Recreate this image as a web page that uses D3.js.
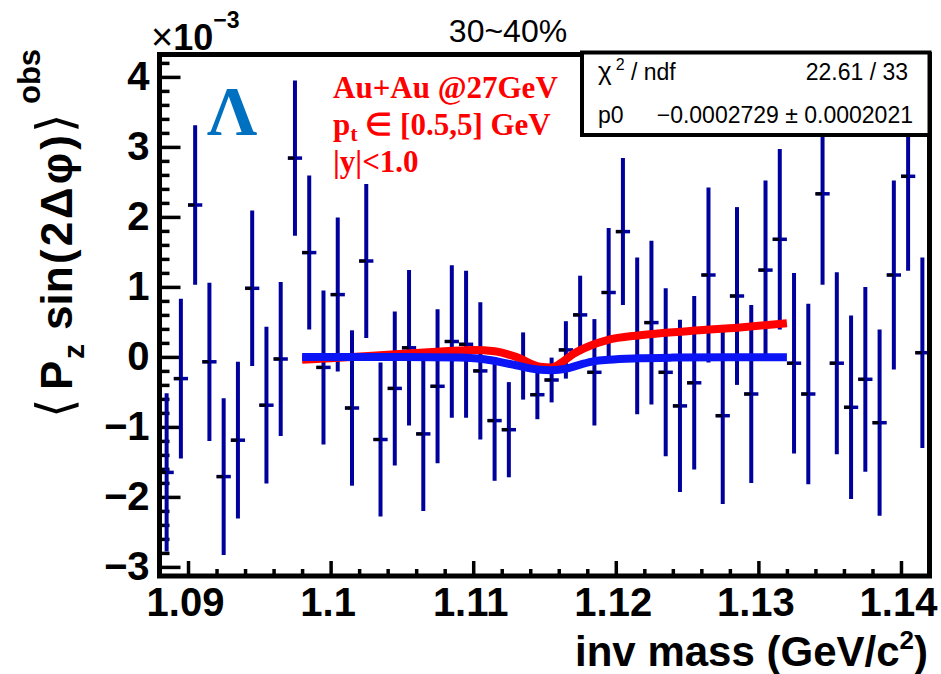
<!DOCTYPE html>
<html><head><meta charset="utf-8">
<script src="https://cdn.jsdelivr.net/npm/d3@7"></script>
<style>body{margin:0;background:#fff}</style>
</head><body>
<svg id="c" width="941" height="674"></svg>
<script>
// ---------- data (values in units of 1e-3) ----------
const xCenters = [1.0885,1.0895,1.0905,1.0915,1.0925,1.0935,1.0945,1.0955,1.0965,1.0975,
  1.0985,1.0995,1.1005,1.1015,1.1025,1.1035,1.1045,1.1055,1.1065,1.1075,
  1.1085,1.1095,1.1105,1.1115,1.1125,1.1135,1.1145,1.1155,1.1165,1.1175,
  1.1185,1.1195,1.1205,1.1215,1.1225,1.1235,1.1245,1.1255,1.1265,1.1275,
  1.1285,1.1295,1.1305,1.1315,1.1325,1.1335,1.1345,1.1355,1.1365,1.1375,
  1.1385,1.1395,1.1405,1.1415];
const yValues = [-1.65,-0.31,2.17,-0.07,-1.71,-1.19,0.98,-0.69,-0.03,2.84,
  1.49,-0.15,0.89,-0.73,1.37,-1.18,-0.45,0.13,-1.10,-0.42,
  0.22,0.18,-0.20,-0.91,-1.04,-0.13,-0.54,-0.33,0.10,0.60,
  -0.22,0.92,1.79,0.30,0.49,-0.22,-0.70,-0.37,1.17,-0.84,
  0.87,-0.53,1.24,1.68,-0.09,-0.53,2.33,-0.09,-0.72,-0.32,
  -0.94,1.17,2.58,0.06];
const yErrors = [1.13,1.14,1.14,1.13,1.12,1.12,1.11,1.12,1.10,1.11,
  1.10,1.10,1.10,1.11,1.10,1.10,1.10,1.11,1.10,1.10,
  1.09,1.05,0.98,0.86,0.68,0.48,0.35,0.32,0.41,0.56,
  0.76,0.92,1.05,1.12,1.17,1.20,1.23,1.24,1.25,1.26,
  1.27,1.27,1.28,1.29,1.29,1.29,1.30,1.30,1.31,1.32,
  1.33,1.35,1.35,1.36];
const blueX = [1.098,1.105,1.109,1.111,1.113,1.1145,1.1155,1.1165,1.1175,1.1185,1.1195,1.1215,1.124,1.128,1.132];
const blueY = [0.0,0.0,-0.01,-0.04,-0.12,-0.18,-0.19,-0.17,-0.11,-0.06,-0.04,-0.02,-0.01,-0.005,-0.005];
const redX = [1.098,1.100,1.104,1.108,1.110,1.1115,1.113,1.1147,1.1155,1.1162,1.117,1.1182,1.1194,1.1217,1.1252,1.1287,1.132];
const redY = [-0.04,-0.02,0.03,0.08,0.10,0.08,0.0,-0.14,-0.15,-0.08,0.04,0.16,0.24,0.31,0.37,0.42,0.48];
const xMajorTicks = [1.09,1.10,1.11,1.12,1.13,1.14];
const xTickLabels = ["1.09","1.1","1.11","1.12","1.13","1.14"];
const yMajorTicks = [-3,-2,-1,0,1,2,3,4];
const yTickLabels = ["\u22123","\u22122","\u22121","0","1","2","3","4"];
const titleText = "30~40%";
const statLabels = ["\u03c7", " / ndf", "p0"];
const statValues = ["22.61 / 33", "\u22120.0002729 \u00b1 0.0002021"];

// ---------- layout ----------
const svg = d3.select("#c");
const L = 159.5, R = 929.5, T = 54.5, B = 576;
const x = d3.scaleLinear().domain([1.088, 1.142]).range([L, R]);
const y = d3.scaleLinear().domain([-3.13, 4.32]).range([B, T]);
const FONT = "'Liberation Sans', Arial, Helvetica, sans-serif";
const SERIF = "'Liberation Serif', 'Times New Roman', serif";

// minor ticks
const xMinor = d3.range(1.088, 1.1421, 0.002).filter(v => !xMajorTicks.some(m => Math.abs(m - v) < 1e-6));
const yMinor = d3.range(-3.0, 4.21, 0.2).filter(v => !yMajorTicks.some(m => Math.abs(m - v) < 1e-6));

const gxMinor = svg.append("g").attr("transform", `translate(0,${B})`)
  .call(d3.axisBottom(x).tickValues(xMinor).tickSize(-7).tickFormat(""));
const gx = svg.append("g").attr("transform", `translate(0,${B})`)
  .call(d3.axisBottom(x).tickValues(xMajorTicks).tickSize(-15).tickPadding(12)
    .tickFormat((d, i) => xTickLabels[i]));
const gyMinor = svg.append("g").attr("transform", `translate(${L},0)`)
  .call(d3.axisLeft(y).tickValues(yMinor).tickSize(-10).tickFormat(""));
const gy = svg.append("g").attr("transform", `translate(${L},0)`)
  .call(d3.axisLeft(y).tickValues(yMajorTicks).tickSize(-21).tickPadding(10)
    .tickFormat((d, i) => yTickLabels[i]));
[gxMinor, gx, gyMinor, gy].forEach(g => {
  g.select(".domain").remove();
  g.selectAll("line").attr("stroke", "#000").attr("stroke-width", 3.5);
  g.selectAll("text").attr("font-family", FONT).attr("font-weight", "bold")
    .attr("font-size", 40).attr("fill", "#000");
});
gx.selectAll("text").attr("dx", -3);

// ---------- error bars ----------
const pts = xCenters.map((c, i) => ({c, v: yValues[i], e: yErrors[i]}));
const gp = svg.append("g");
gp.selectAll("line.v").data(pts).join("line").attr("class", "v")
  .attr("x1", d => x(d.c)).attr("x2", d => x(d.c))
  .attr("y1", d => y(d.v - d.e)).attr("y2", d => y(d.v + d.e))
  .attr("stroke", "#00009c").attr("stroke-width", 4);
gp.selectAll("line.h").data(pts).join("line").attr("class", "h")
  .attr("x1", d => x(d.c - 0.0005)).attr("x2", d => x(d.c + 0.0005))
  .attr("y1", d => y(d.v)).attr("y2", d => y(d.v))
  .attr("stroke", "#00009c").attr("stroke-width", 3.5);
gp.selectAll("rect.m").data(pts).join("rect").attr("class", "m")
  .attr("x", d => x(d.c) - 7).attr("width", 6.5)
  .attr("y", d => y(d.v) - 1.5).attr("height", 3).attr("fill", "#000");

// ---------- curves ----------
const line = d3.line().x(d => x(d[0])).y(d => y(d[1])).curve(d3.curveMonotoneX);
svg.append("path").datum(redX.map((v, i) => [v, redY[i]])).attr("d", line)
  .attr("fill", "none").attr("stroke", "#ff0000").attr("stroke-width", 8);
svg.append("path").datum(blueX.map((v, i) => [v, blueY[i]])).attr("d", line)
  .attr("fill", "none").attr("stroke", "#0a14f5").attr("stroke-width", 8);

// ---------- frame ----------
svg.append("path").attr("d", `M${L},${B}H${R}V${T}H${L}Z`)
  .attr("fill", "none").attr("stroke", "#000").attr("stroke-width", 5);

// ---------- stats box ----------
svg.append("rect").attr("x", 582).attr("y", 52.5).attr("width", 347.5).attr("height", 82.5)
  .attr("fill", "#fff").attr("stroke", "#000").attr("stroke-width", 4);
const st = svg.append("g").attr("font-family", FONT).attr("font-size", 23).attr("fill", "#000");
const t1 = st.append("text").attr("x", 598).attr("y", 80);
t1.append("tspan").attr("font-size", 26).text(statLabels[0]);
t1.append("tspan").attr("font-size", 16).attr("dx", 4).attr("dy", -10).text("2");
t1.append("tspan").attr("dy", 10).text(statLabels[1]);
st.append("text").attr("x", 598).attr("y", 123).text(statLabels[2]);
st.append("text").attr("x", 908).attr("y", 80).attr("text-anchor", "end").text(statValues[0]);
st.append("text").attr("x", 913).attr("y", 123).attr("text-anchor", "end").text(statValues[1]);

// ---------- texts ----------
svg.append("text").attr("x", 508).attr("y", 42).attr("text-anchor", "middle")
  .attr("font-family", FONT).attr("font-size", 32).text(titleText);

const ex = svg.append("text").attr("x", 151).attr("y", 50).attr("font-family", FONT).attr("fill", "#000");
ex.append("tspan").attr("font-size", 38).text("\u00d7");
ex.append("tspan").attr("font-size", 36).attr("font-weight", "bold").text("10");
ex.append("tspan").attr("font-size", 23).attr("font-weight", "bold").attr("dy", -22).text("\u22123");

const yl = svg.append("text").attr("transform", "translate(72,420) rotate(-90)")
  .attr("font-family", FONT).attr("font-weight", "bold").attr("font-size", 44).attr("fill", "#000");
yl.append("tspan").attr("x", 2).attr("font-weight", "normal").attr("font-size", 50).text("\u27e8");
yl.append("tspan").attr("x", 30).text("P");
yl.append("tspan").attr("x", 61).attr("font-size", 30).attr("dy", 12).text("z");
yl.append("tspan").attr("x", 90).attr("dy", -12).text("sin");
yl.append("tspan").attr("x", 156).attr("letter-spacing", 3).text("(2\u0394\u03c6)");
yl.append("tspan").attr("x", 287).attr("font-weight", "normal").attr("font-size", 50).text("\u27e9");
yl.append("tspan").attr("x", 316).attr("font-size", 31).attr("dy", -32).text("obs");

const xl = svg.append("text").attr("x", 928).attr("y", 666).attr("text-anchor", "end")
  .attr("font-family", FONT).attr("font-weight", "bold").attr("font-size", 42).attr("fill", "#000");
xl.append("tspan").text("inv mass (GeV/c");
xl.append("tspan").attr("font-size", 26).attr("dy", -17).text("2");
xl.append("tspan").attr("dy", 17).text(")");

const red = svg.append("g").attr("font-family", SERIF).attr("font-weight", "bold")
  .attr("font-size", 31).attr("fill", "#ff0000");
red.append("text").attr("x", 333).attr("y", 98).text("Au+Au @27GeV");
const r2 = red.append("text").attr("x", 333).attr("y", 135);
r2.append("tspan").text("p");
r2.append("tspan").attr("font-size", 22).attr("dy", 6).text("t");
r2.append("tspan").attr("dy", -6).text(" \u2208 [0.5,5] GeV");
red.append("text").attr("x", 333).attr("y", 172).text("|y|<1.0");

svg.append("text").attr("x", 207).attr("y", 135).attr("font-family", SERIF)
  .attr("font-weight", "bold").attr("font-size", 70).attr("fill", "#0070c0").text("\u039b");
</script>
</body></html>
